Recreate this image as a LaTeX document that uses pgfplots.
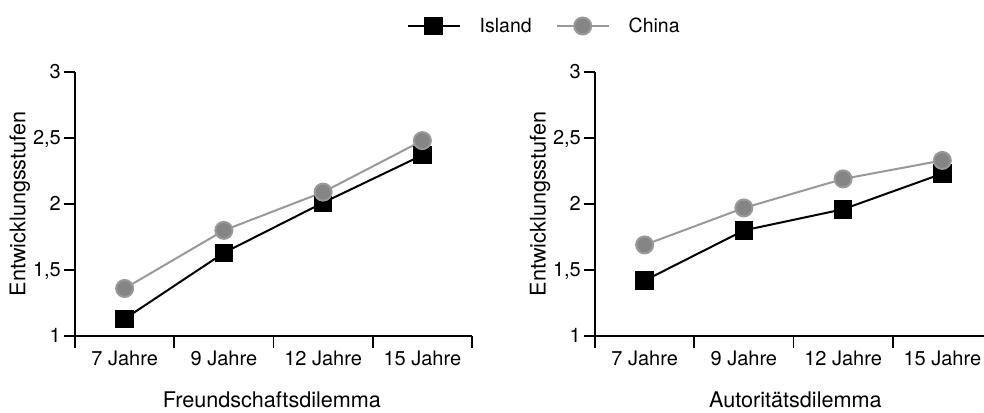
\documentclass[border=0pt]{standalone}
\usepackage{fontspec}
\setmainfont{TeX Gyre Heros}
\usepackage{pgfplots}
\pgfplotsset{compat=1.18}
\definecolor{grmark}{gray}{0.52}
\definecolor{grline}{gray}{0.6}
\pgfplotsset{
  myax/.style={
    scale only axis, height=264pt,
    ymin=1, ymax=3, xmin=-0.5,
    axis lines=left,
    axis line style={-, line width=1.6pt, black},
    clip=false,
    ytick={1,1.5,2,2.5,3},
    yticklabels={1,{1,5},2,{2,5},3},
    xtick={0,1,2,3},
    xticklabels={7 Jahre,9 Jahre,12 Jahre,15 Jahre},
    minor xtick={-0.5,0.5,1.5,2.5,3.5},
    tick align=outside,
    major tick length=11pt,
    minor tick length=12pt,
    tick style={line width=1.6pt, black},
    major x tick style={draw=none},
    xticklabel style={font=\fontsize{20}{24}\selectfont, inner sep=0pt, anchor=base, yshift=-18.7pt},
    yticklabel style={font=\fontsize{20}{24}\selectfont, inner sep=0pt, anchor=base east, xshift=-3pt, yshift=-7pt},
    label style={font=\fontsize{21.6}{26}\selectfont, inner sep=0pt},
    ylabel={Entwicklungsstufen},
  },
  isl/.style={black, line width=2pt, mark=square*, mark size=8.3pt, mark options={solid, fill=black, draw=none}},
  chn/.style={grline, line width=2pt, mark=*, mark size=8.5pt, mark options={solid, fill=grmark, draw=none}},
}
\begin{document}
\begin{tikzpicture}[x=1pt,y=1pt]
\useasboundingbox (0,0) rectangle (984,412);
\begin{axis}[myax, at={(75pt,76pt)}, anchor=south west, width=397pt, xmax=3.5,
  ylabel style={at={(axis description cs:-0.1247,0.5)}, anchor=base},
  xlabel={Freundschaftsdilemma},
  xlabel style={at={(axis description cs:0.496,-0.2715)}, anchor=base},
  legend columns=2,
  legend style={draw=none, fill=none, inner sep=0pt, outer sep=0pt,
    font=\fontsize{19.5}{23}\selectfont,
    nodes={inner sep=0pt},
    at={(axis description cs:0.8355,1.1742)}, anchor=west,
    /tikz/every odd column/.append style={column sep=19pt},
    /tikz/every even column/.append style={column sep=24pt}},
  legend image code/.code={\draw[mark repeat=2,mark phase=2] plot coordinates {(0pt,0pt)(26pt,0pt)(52pt,0pt)};},
]
\addplot[isl] coordinates {(0,1.13) (1,1.63) (2,2.01) (3,2.37)};
\addlegendentry{Island}
\addplot[chn] coordinates {(0,1.36) (1,1.80) (2,2.09) (3,2.48)};
\addlegendentry{China}
\end{axis}
\begin{axis}[myax, at={(595pt,76pt)}, anchor=south west, width=389pt, xmax=3.42,
  ylabel style={at={(axis description cs:-0.1272,0.5)}, anchor=base},
  xlabel={Autoritätsdilemma},
  xlabel style={at={(axis description cs:0.515,-0.2715)}, anchor=base},
]
\addplot[isl] coordinates {(0,1.42) (1,1.80) (2,1.96) (3,2.23)};
\addplot[chn] coordinates {(0,1.69) (1,1.97) (2,2.19) (3,2.33)};
\end{axis}
\end{tikzpicture}
\end{document}
